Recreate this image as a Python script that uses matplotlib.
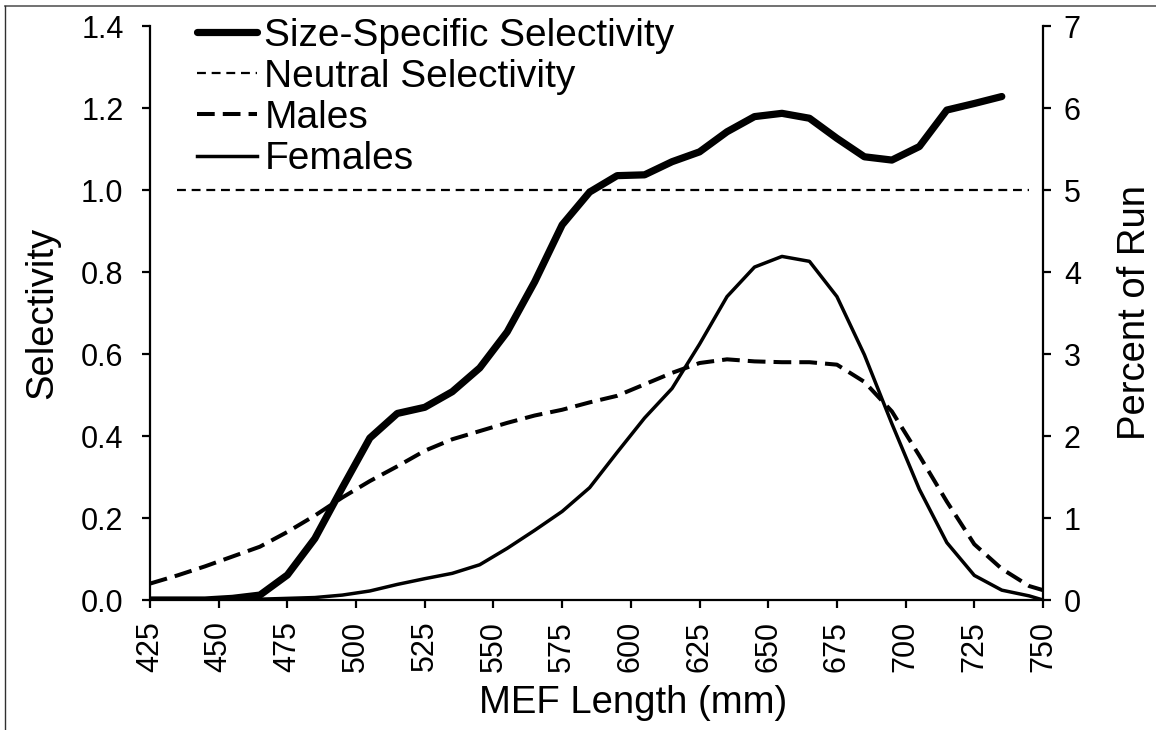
import matplotlib
matplotlib.use("Agg")
import matplotlib.pyplot as plt
from matplotlib.lines import Line2D

plt.rcParams['font.family'] = ['Liberation Sans', 'DejaVu Sans']

# size-specific selectivity by MEF length bin
sel_len = [425, 435, 445, 455, 465, 475, 485, 495, 505, 515, 525, 535, 545, 555, 565, 575,
           585, 595, 605, 615, 625, 635, 645, 655, 665, 675, 685, 695, 705, 715, 725, 735]
selectivity = [0.0, 0.0, 0.0, 0.004, 0.012, 0.061, 0.15, 0.274, 0.395, 0.455, 0.47, 0.508,
               0.566, 0.654, 0.776, 0.915, 0.995, 1.035, 1.037, 1.069, 1.093, 1.142, 1.179,
               1.187, 1.175, 1.126, 1.081, 1.073, 1.106, 1.195, 1.211, 1.228]

# neutral reference line
neutral_len = [435, 745]
neutral = [1.0, 1.0]

# percent of run by sex
run_len = [425, 435, 445, 455, 465, 475, 485, 495, 505, 515, 525, 535, 545, 555, 565, 575,
           585, 595, 605, 615, 625, 635, 645, 655, 665, 675, 685, 695, 705, 715, 725, 735,
           745, 750]
males = [0.2, 0.3, 0.41, 0.53, 0.65, 0.83, 1.03, 1.25, 1.45, 1.63, 1.82, 1.96, 2.06, 2.16,
         2.25, 2.32, 2.41, 2.49, 2.63, 2.77, 2.89, 2.935, 2.91, 2.9, 2.9, 2.87, 2.66, 2.3,
         1.76, 1.2, 0.68, 0.38, 0.17, 0.12]
females = [0.0, 0.0, 0.0, 0.005, 0.01, 0.02, 0.03, 0.06, 0.11, 0.19, 0.26, 0.325, 0.43,
           0.63, 0.85, 1.08, 1.37, 1.8, 2.22, 2.58, 3.12, 3.7, 4.06, 4.19, 4.13, 3.7, 2.99,
           2.15, 1.35, 0.7, 0.3, 0.12, 0.05, 0.0]

x_ticks = [425, 450, 475, 500, 525, 550, 575, 600, 625, 650, 675, 700, 725, 750]
left_ticks = [0.0, 0.2, 0.4, 0.6, 0.8, 1.0, 1.2, 1.4]
right_ticks = [0, 1, 2, 3, 4, 5, 6, 7]

W, H = 1156, 730
fig = plt.figure(figsize=(W / 100, H / 100), dpi=100)
ax = fig.add_axes([150 / W, 130 / H, 893 / W, 574 / H])
ax2 = ax.twinx()

l_sel, = ax.plot(sel_len, selectivity, color='black', lw=5.2,
                 solid_capstyle='round', solid_joinstyle='round')
l_neu, = ax.plot(neutral_len, neutral, color='black', lw=1.6, dashes=(4, 2.6))
l_m, = ax2.plot(run_len, males, color='black', lw=2.9, dashes=(4.4, 2.0))
l_f, = ax2.plot(run_len, females, color='black', lw=2.5, solid_joinstyle='round')

ax.set_xlim(425, 750)
ax.set_ylim(0, 1.4)
ax2.set_ylim(0, 7)
ax.set_xticks(x_ticks)
ax.set_yticks(left_ticks)
ax.set_yticklabels(['%.1f' % v for v in left_ticks])
ax2.set_yticks(right_ticks)

for a in (ax, ax2):
    a.spines['top'].set_visible(False)
    for s in a.spines.values():
        s.set_linewidth(1.6)
ax.spines['right'].set_visible(False)
ax2.spines['left'].set_visible(False)
ax2.spines['bottom'].set_visible(False)

ax.tick_params(axis='x', direction='out', length=6, width=1.6, labelsize=22,
               pad=9, labelrotation=90)
ax.tick_params(axis='y', direction='out', length=6, width=1.6, labelsize=22, pad=13)
ax2.tick_params(axis='y', direction='out', length=6, width=1.6, labelsize=22, pad=9)

ax.set_xlabel('MEF Length (mm)', fontsize=27.5)
ax.xaxis.set_label_coords((633 - 150) / 893, -(685 - 600) / 574)
ax.set_ylabel('Selectivity', fontsize=27.5)
ax.yaxis.set_label_coords((60 - 150) / 893, 0.5)
ax2.set_ylabel('Percent of Run', fontsize=27.5)
ax2.yaxis.set_label_coords((1117 - 150) / 893, 0.5)

ax2.legend([l_sel, l_neu, l_m, l_f],
           ['Size-Specific Selectivity', 'Neutral Selectivity', 'Males', 'Females'],
           loc='upper left', bbox_to_anchor=(197 / W, 1 - 18 / H),
           bbox_transform=fig.transFigure, frameon=False, fontsize=28,
           borderpad=0, borderaxespad=0, labelspacing=0.13,
           handlelength=1.55, handletextpad=0.18)

# outer chart frame edges
fig.add_artist(Line2D([5 / W, 1], [1 - 6 / H, 1 - 6 / H], transform=fig.transFigure,
                      color='#595959', lw=1.2))
fig.add_artist(Line2D([5 / W, 5 / W], [0, 1 - 6 / H], transform=fig.transFigure,
                      color='#303030', lw=1.0))

fig.savefig('out.png', dpi=100)
